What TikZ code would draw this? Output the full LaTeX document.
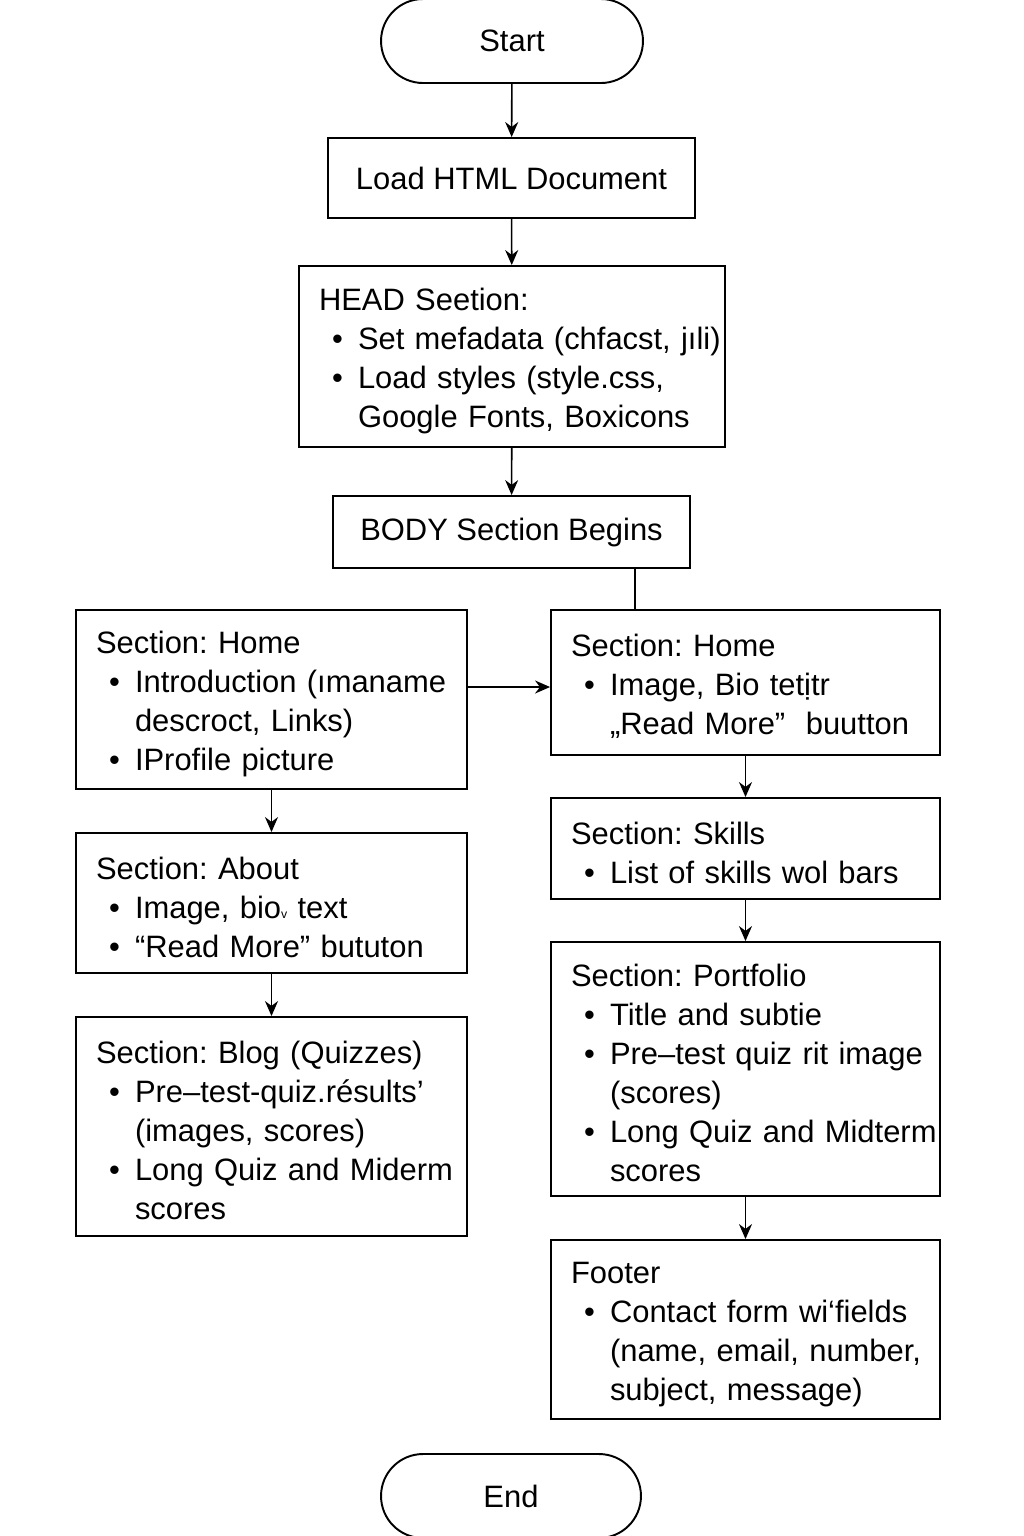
\documentclass[tikz,border=0pt]{standalone}
\usepackage{fontspec}
\setmainfont{Liberation Sans}
\usetikzlibrary{arrows.meta}
\frenchspacing
\newcommand{\bitem}[1]{\mbox{\hspace*{0.26cm}\makebox[0.52cm][l]{\textbullet}#1}}
\newcommand{\bcont}[1]{\mbox{\hspace*{0.78cm}#1}}

\begin{document}
\begin{tikzpicture}[x=0.02cm,y=-0.02cm,
    every node/.style={font=\fontsize{17.6}{22.2}\selectfont},
    terminal/.style={draw, line width=1.1pt, rounded corners=0.84cm, minimum width=5.24cm, minimum height=1.68cm, inner sep=0pt},
    plainbox/.style={draw, line width=1.1pt, inner sep=0pt},
    listbox/.style={draw, line width=1.1pt, inner xsep=0.4cm, inner ysep=0pt, align=left,
      execute at begin node={\rule{0pt}{17.5pt}}},
    flow/.style={-{Stealth[length=3mm,width=2.6mm]}, line width=0.9pt}]
  \useasboundingbox (0,0) rectangle (1024,1536);

  % main column
  \node[terminal] (start) at (512,41) {Start};
  \node[plainbox, minimum width=7.34cm, minimum height=1.6cm] (load) at (511.5,178) {Load HTML Document};
  \node[listbox, text width=7.72cm, minimum height=3.62cm] (head) at (512,356.5)
    {HEAD Seetion:\\ \bitem{Set mefadata (chfacst, jıli)}\\ \bitem{Load styles (style.css,}\\ \bcont{Google Fonts, Boxicons}};
  \node[plainbox, minimum width=7.14cm, minimum height=1.44cm] (body) at (511.5,532) {BODY Section Begins};

  % left column
  \node[listbox, text width=7.02cm, minimum height=3.58cm] (homeL) at (271.5,699.5)
    {Section: Home\\ \bitem{Introduction (ımaname}\\ \bcont{descroct, Links)}\\ \bitem{IProfile picture}};
  \node[listbox, text width=7.02cm, minimum height=2.8cm] (about) at (271.5,903)
    {Section: About\\ \bitem{Image, bio{\scriptsize v} text}\\ \bitem{“Read More” bututon}};
  \node[listbox, text width=7.02cm, minimum height=4.38cm] (blog) at (271.5,1126.5)
    {Section: Blog (Quizzes)\\ \bitem{Pre–test-quiz.résults’}\\ \bcont{(images, scores)}\\ \bitem{Long Quiz and Miderm}\\ \bcont{scores}};

  % right column
  \node[listbox, text width=6.98cm, minimum height=2.9cm] (homeR) at (745.5,682.5)
    {Section: Home\\ \bitem{Image, Bio tetịtr}\\ \bcont{„Read More”\ \ buutton}};
  \node[listbox, text width=6.98cm, minimum height=2.02cm] (skills) at (745.5,848.5)
    {Section: Skills\\ \bitem{List of skills wol bars}};
  \node[listbox, text width=6.98cm, minimum height=5.08cm] (portfolio) at (745.5,1069)
    {Section: Portfolio\\ \bitem{Title and subtie}\\ \bitem{Pre–test quiz rit image}\\ \bcont{(scores)}\\ \bitem{Long Quiz and Midterm}\\ \bcont{scores}};
  \node[listbox, text width=6.98cm, minimum height=3.58cm] (footer) at (745.5,1329.5)
    {Footer\\ \bitem{Contact form wi‘fields}\\ \bcont{(name, email, number,}\\ \bcont{subject, message)}};

  \node[terminal, minimum width=5.2cm] (end) at (511,1496) {End};

  % connectors
  \draw[flow] (start) -- (load);
  \draw[flow] (load) -- (head);
  \draw[flow] (head) -- (body);
  \draw[line width=0.9pt] ([xshift=-1.12cm]body.south east) -- ([xshift=-1.12cm]body.south east |- homeR.north);
  \draw[flow] ([yshift=0.25cm]homeL.east) -- ([yshift=0.25cm]homeL.east -| homeR.west);
  \draw[flow] (homeL) -- (about);
  \draw[flow] (about) -- (blog);
  \draw[flow] (homeR) -- (skills);
  \draw[flow] (skills) -- (portfolio);
  \draw[flow] (portfolio) -- (footer);
\end{tikzpicture}
\end{document}
